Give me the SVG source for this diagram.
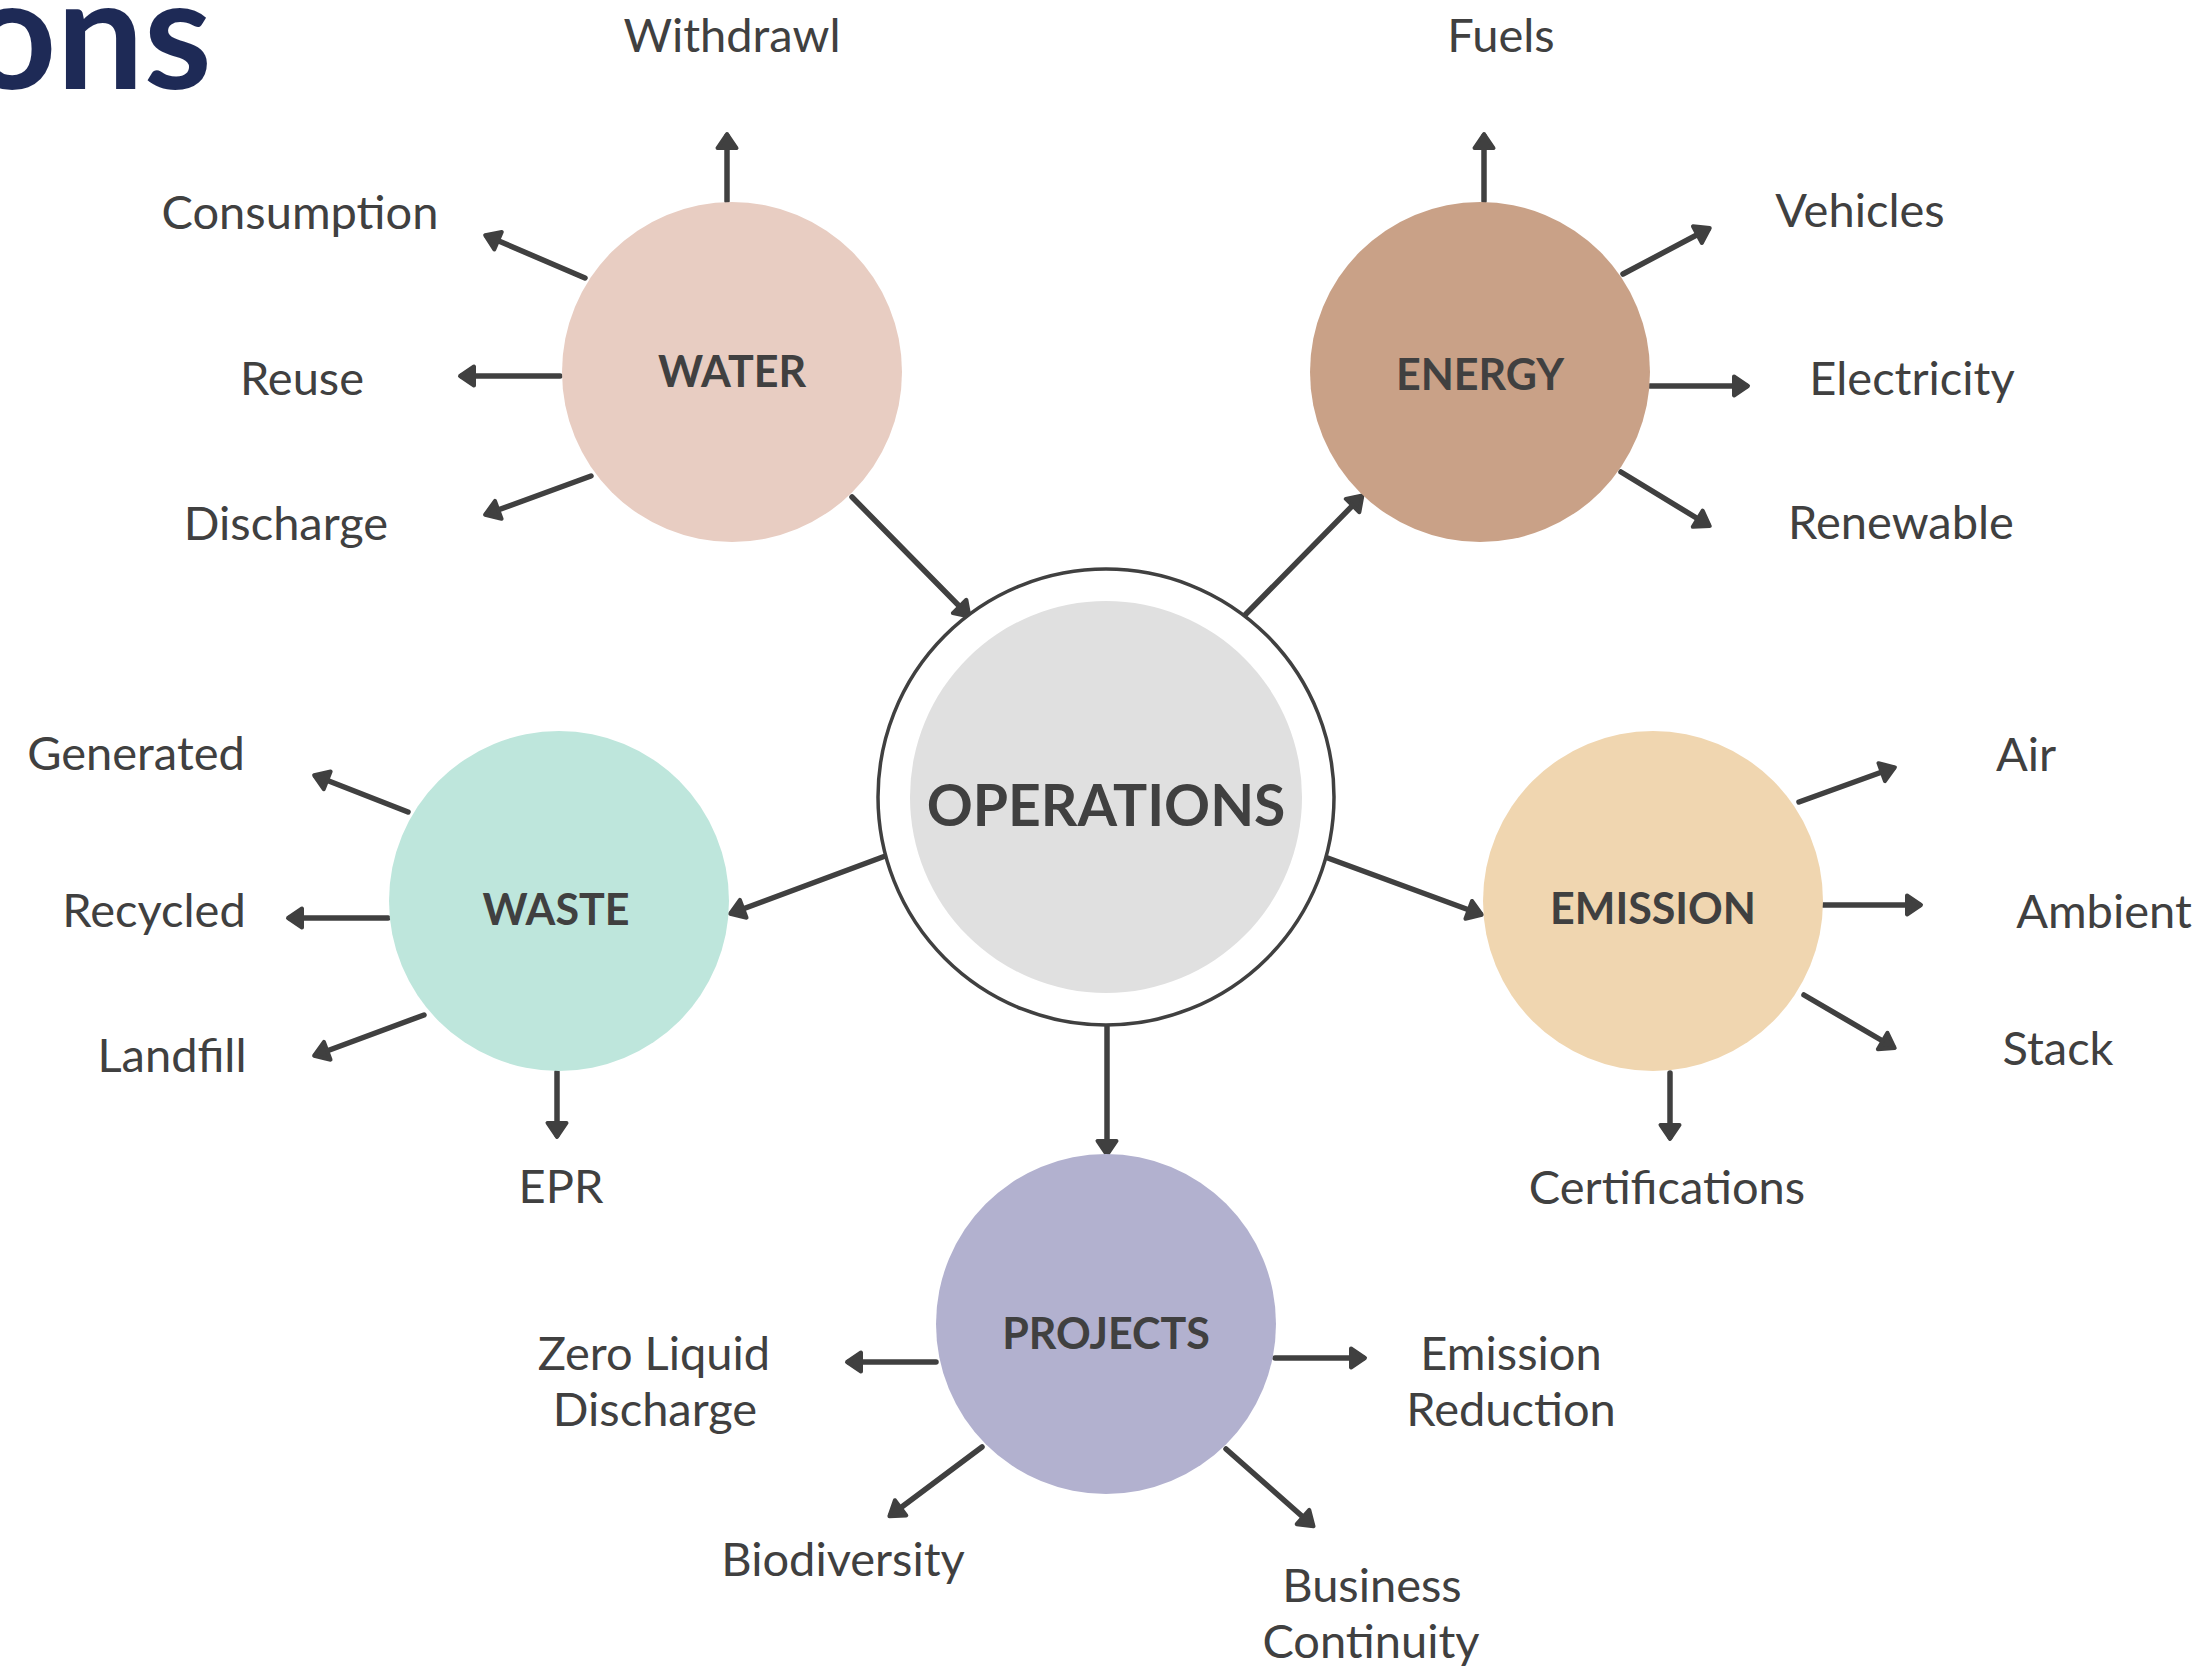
<svg xmlns="http://www.w3.org/2000/svg" width="2208" height="1667" viewBox="0 0 2208 1667">
<defs>
<style>
.lbl{font-family:Lato,"Liberation Sans",sans-serif;font-size:47px;fill:#404040;text-anchor:middle}
.nd{font-family:Lato,"Liberation Sans",sans-serif;font-size:43px;font-weight:700;fill:#404040;text-anchor:middle}
.big{font-size:57px}
.ar{stroke:#404040;stroke-width:5.5;stroke-linecap:round;fill:none;marker-end:url(#ah)}
</style>
<marker id="ah" markerUnits="userSpaceOnUse" viewBox="-4 -14 24 28" markerWidth="24" markerHeight="28" refX="12" refY="0" orient="auto" overflow="visible">
<path d="M0,-9.5 L14,0 L0,9.5 Z" fill="#404040" stroke="#404040" stroke-width="4" stroke-linejoin="round"/>
</marker>
</defs>
<rect width="2208" height="1667" fill="#ffffff"/>
<text x="212" y="89" font-family="Lato,'Liberation Sans',sans-serif" font-size="155" font-weight="700" fill="#1E2A56" text-anchor="end">ons</text>

<g id="connectors">
<line class="ar" x1="852" y1="497" x2="968" y2="615"/>
<line class="ar" x1="1245" y1="615" x2="1361" y2="497"/>
<line class="ar" x1="888" y1="855" x2="732" y2="913"/>
<line class="ar" x1="1325" y1="857" x2="1480" y2="914"/>
<line class="ar" x1="1107" y1="1027" x2="1107" y2="1153"/>
<line class="ar" x1="727" y1="201" x2="727" y2="136"/>
<line class="ar" x1="585" y1="278" x2="487" y2="236"/>
<line class="ar" x1="560" y1="376" x2="462" y2="376"/>
<line class="ar" x1="591" y1="476" x2="487" y2="514"/>
<line class="ar" x1="1484" y1="201" x2="1484" y2="136"/>
<line class="ar" x1="1623" y1="274" x2="1708" y2="229"/>
<line class="ar" x1="1650" y1="386" x2="1746" y2="386"/>
<line class="ar" x1="1621" y1="472" x2="1708" y2="525"/>
<line class="ar" x1="408" y1="812" x2="316" y2="776"/>
<line class="ar" x1="388" y1="918" x2="290" y2="918"/>
<line class="ar" x1="424" y1="1015" x2="316" y2="1055"/>
<line class="ar" x1="557" y1="1072" x2="557" y2="1135"/>
<line class="ar" x1="1799" y1="802" x2="1893" y2="768"/>
<line class="ar" x1="1823" y1="905" x2="1919" y2="905"/>
<line class="ar" x1="1804" y1="995" x2="1893" y2="1047"/>
<line class="ar" x1="1670" y1="1073" x2="1670" y2="1137"/>
<line class="ar" x1="936" y1="1362" x2="849" y2="1362"/>
<line class="ar" x1="1275" y1="1358" x2="1363" y2="1358"/>
<line class="ar" x1="982" y1="1447" x2="891" y2="1515"/>
<line class="ar" x1="1226" y1="1449" x2="1312" y2="1525"/>
</g>

<g id="operations">
<circle cx="1106" cy="797" r="228" fill="#ffffff" stroke="#404040" stroke-width="3.5"/>
<circle cx="1106" cy="797" r="196" fill="#E0E0E0"/>
<text class="nd big" x="1106" y="826">OPERATIONS</text>
</g>
<g id="water">
<circle cx="732" cy="372" r="170" fill="#E8CDC2"/>
<text class="nd" x="732" y="387">WATER</text>
</g>
<g id="energy">
<circle cx="1480" cy="372" r="170" fill="#C9A187"/>
<text class="nd" x="1480" y="390">ENERGY</text>
</g>
<g id="waste">
<circle cx="559" cy="901" r="170" fill="#BEE6DC"/>
<text class="nd" x="556" y="925">WASTE</text>
</g>
<g id="emission">
<circle cx="1653" cy="901" r="170" fill="#F0D6B0"/>
<text class="nd" x="1653" y="924">EMISSION</text>
</g>
<g id="projects">
<circle cx="1106" cy="1324" r="170" fill="#B2B1CF"/>
<text class="nd" x="1106" y="1349">PROJECTS</text>
</g>

<g id="labels">
<text class="lbl" x="732" y="52">Withdrawl</text>
<text class="lbl" x="300" y="229">Consumption</text>
<text class="lbl" x="302" y="395">Reuse</text>
<text class="lbl" x="286" y="540">Discharge</text>
<text class="lbl" x="1501" y="52">Fuels</text>
<text class="lbl" x="1860" y="227">Vehicles</text>
<text class="lbl" x="1912" y="395">Electricity</text>
<text class="lbl" x="1901" y="539">Renewable</text>
<text class="lbl" x="136" y="770">Generated</text>
<text class="lbl" x="154" y="927">Recycled</text>
<text class="lbl" x="172" y="1072">Landfill</text>
<text class="lbl" x="561" y="1203">EPR</text>
<text class="lbl" x="2026" y="771">Air</text>
<text class="lbl" x="2104" y="928">Ambient</text>
<text class="lbl" x="2058" y="1065">Stack</text>
<text class="lbl" x="1667" y="1204">Certifications</text>
<text class="lbl" x="654" y="1370">Zero Liquid</text>
<text class="lbl" x="655" y="1426">Discharge</text>
<text class="lbl" x="1511" y="1370">Emission</text>
<text class="lbl" x="1511" y="1426">Reduction</text>
<text class="lbl" x="843" y="1576">Biodiversity</text>
<text class="lbl" x="1372" y="1602">Business</text>
<text class="lbl" x="1371" y="1658">Continuity</text>
</g>
</svg>
